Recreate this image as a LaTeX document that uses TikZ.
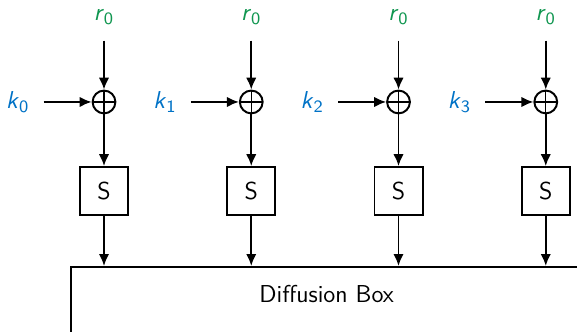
\documentclass[tikz,border=0pt]{standalone}
\usetikzlibrary{positioning, arrows.meta}

\definecolor{keyblue}{RGB}{0,114,198}
\definecolor{rndgreen}{RGB}{16,150,80}
\newcommand{\symsub}[2]{\textit{#1}$_{\mathsf{#2}}$}

\begin{document}
\begin{tikzpicture}[
  font=\sffamily\fontsize{11.3}{13.5}\selectfont,
  >={Latex[length=5.5pt,width=4.8pt]},
  % --- node styles ---
  xorop/.style={
    draw, line width=0.9pt, circle, minimum size=0.37cm, inner sep=0pt,
    path picture={
      \draw[semithick] (path picture bounding box.north) -- (path picture bounding box.south)
        (path picture bounding box.west) -- (path picture bounding box.east);}
  },
  sbox/.style={
    draw, line width=0.9pt, minimum size=0.78cm, inner sep=0pt
  },
  rnd/.style={text=rndgreen},
  key/.style={text=keyblue},
  arr/.style={->, line width=0.9pt},
]
\useasboundingbox (-1.688,1.655) rectangle (7.677,-3.733);
\clip (-1.688,1.655) rectangle (7.677,-3.733);

% ══════════════════════════════════════════════
% ROUND COLUMNS
% ══════════════════════════════════════════════

\foreach \i in {0,...,3} {
  \node[xorop] (x\i) at (2.39*\i,0) {};
  \node[rnd] at ([yshift=1.38cm]x\i.center) (r\i) {\symsub{r}{0}};
  \node[key] at ([xshift=-1.4cm]x\i.center) (k\i) {\symsub{k}{\i}};
  \node[sbox, below=0.84cm of x\i] (s\i) {S};

  \draw[arr, shorten <=4pt] (r\i) -- (x\i);
  \draw[arr, shorten <=3pt] (k\i) -- (x\i);
  \draw[arr] (x\i) -- (s\i);
}

% ══════════════════════════════════════════════
% DIFFUSION LAYER
% ══════════════════════════════════════════════

\node[draw, line width=0.9pt, anchor=north west, minimum width=8.3cm, minimum height=2cm]
  at (-0.552,-2.662) (diff) {};
\node at ([yshift=-0.45cm]diff.north) (difflbl) {Diffusion Box};

\foreach \i in {0,...,3}
  \draw[arr] (s\i) -- (s\i |- diff.north);

\end{tikzpicture}
\end{document}
